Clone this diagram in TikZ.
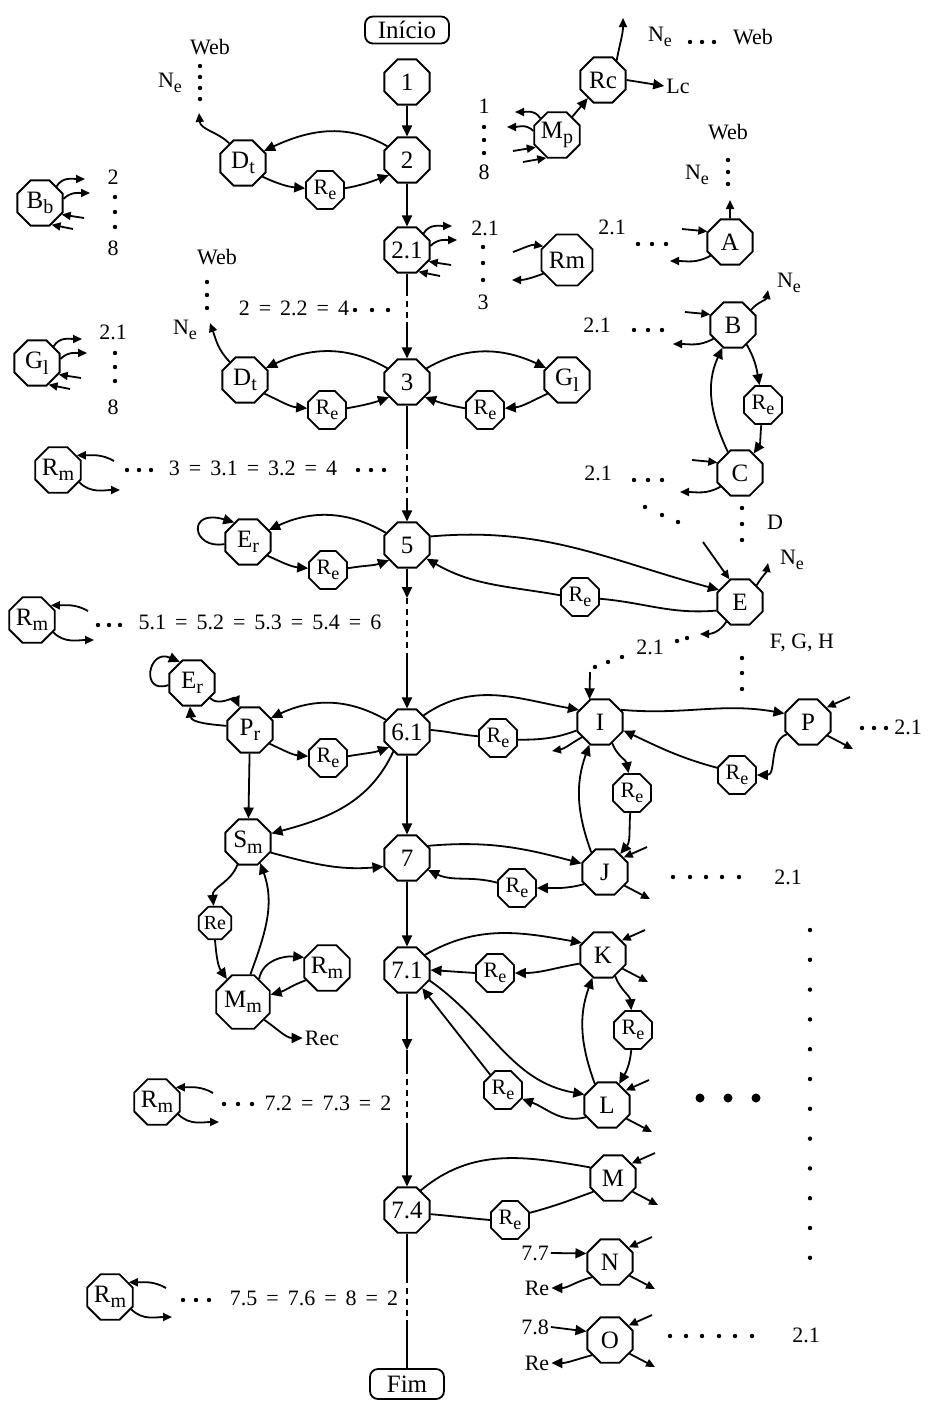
\documentclass[tikz,border=0pt]{standalone}
\usepackage{fontspec}
\setmainfont{Liberation Serif}
\usetikzlibrary{arrows.meta,shapes.geometric}
% lowered index letter inside a node (D_t, E_r, M_p ...)
\newcommand{\sbx}[1]{\raisebox{-0.22em}{\fontsize{20}{20}\selectfont #1}}
% lowered index letter for R_e and free labels (N_e)
\newcommand{\sbs}[1]{\raisebox{-0.22em}{\fontsize{18}{18}\selectfont #1}}
% widely spaced equals sign of the equivalence rows
\newcommand{\eqs}{\hspace{9pt}=\hspace{9pt}}
% stubs: two outgoing arrows to the right, two incoming from the right
\newcommand{\lstubs}[1]{%
  \draw[sarr] (#1.45) to[out=60,in=180] ([shift={(45,24)}]#1.center);
  \draw[sarr] (#1.10) to[out=45,in=180] ([shift={(50,10)}]#1.center);
  \draw[sarr] ([shift={(44,-15)}]#1.center) -- (#1.-28);
  \draw[sarr] ([shift={(33,-26)}]#1.center) -- (#1.-62);}
% the same stubs, mirrored to the left
\newcommand{\mstubs}[1]{%
  \draw[sarr] (#1.135) to[out=120,in=0] ([shift={(-42,23)}]#1.center);
  \draw[sarr] (#1.170) to[out=135,in=0] ([shift={(-50,8)}]#1.center);
  \draw[sarr] ([shift={(-44,-16)}]#1.center) -- (#1.-150);
  \draw[sarr] ([shift={(-34,-27)}]#1.center) -- (#1.-115);}
% R_m pair: one incoming from the right above, one outgoing to the right below
\newcommand{\rmst}[1]{%
  \draw[sarr] ([shift={(56,9)}]#1.center) to[out=150,in=0] (#1.38);
  \draw[sarr] (#1.-30) to[out=-45,in=180] ([shift={(62,-20)}]#1.center);}
% A, B, C: one incoming from the left, one outgoing to the left
\newcommand{\abcst}[1]{%
  \draw[sarr] ([shift={(-48,13)}]#1.center) -- (#1.155);
  \draw[sarr] (#1.-145) to[out=-150,in=0] ([shift={(-60,-19)}]#1.center);}
% right-hand pair: incoming from upper right, outgoing to lower right
\newcommand{\rst}[1]{%
  \draw[sarr] ([shift={(42,25)}]#1.center) -- (#1.38);
  \draw[sarr] (#1.-35) -- ([shift={(45,-27)}]#1.center);}
\begin{document}
\begin{tikzpicture}[x=1pt,y=1pt,
  every node/.style={font=\fontsize{22}{24}\selectfont, inner sep=2pt},
  lnk/.style={line width=1.8pt},
  st/.style={draw, line width=1.8pt, regular polygon, regular polygon sides=8,
    minimum size=49pt, inner sep=0pt, font=\fontsize{25}{27}\selectfont},
  rs/.style={st, minimum size=41pt, font=\fontsize{22}{24}\selectfont},
  term/.style={draw, line width=1.8pt, rounded corners=8pt, minimum width=84pt,
    minimum height=27pt, inner sep=0pt, font=\fontsize{25}{27}\selectfont},
  arr/.style={lnk, -{Triangle[length=11pt,width=10pt]}},
  sarr/.style={lnk, -{Triangle[length=9pt,width=8pt]}},
  mdash/.style={lnk, dash pattern=on 6pt off 5pt}]

\fill[white] (0,0) rectangle (928,-1403);
\useasboundingbox (0,0) rectangle (928,-1403);

% ---------- nodes ----------
\node[term] (ini) at (407,-30) {Início};
\node[st] (n1) at (407,-82) {1};
\node[st] (n2) at (407,-160) {2};
\node[st] (dt1) at (243,-163) {D\sbx{t}};
\node[rs] (re1) at (325,-190) {R\sbs{e}};
\node[st] (n21) at (407,-250) {2.1};
\node[st] (rm0) at (567,-260) {Rm};
\node[st] (mp) at (557,-135) {M\sbx{p}};
\node[st] (rc) at (603,-80) {Rc};
\node[st] (bb) at (40,-203) {B\sbx{b}};
\node[st] (gl1) at (37,-363) {G\sbx{l}};
\node[st] (dt2) at (245,-380) {D\sbx{t}};
\node[rs] (re2) at (327,-410) {R\sbs{e}};
\node[st] (n3) at (407,-382) {3};
\node[st] (gl2) at (567,-380) {G\sbx{l}};
\node[rs] (re3) at (485,-410) {R\sbs{e}};
\node[st] (rmA) at (58,-470) {R\sbx{m}};
\node[st] (n5) at (407,-545) {5};
\node[st] (er1) at (248,-542) {E\sbx{r}};
\node[rs] (re4) at (328,-570) {R\sbs{e}};
\node[st] (rmB) at (32,-620) {R\sbx{m}};
\node[rs] (re5) at (580,-597) {R\sbs{e}};
\node[st] (nA) at (730,-242) {A};
\node[st] (nB) at (733,-325) {B};
\node[rs] (re6) at (763,-405) {R\sbs{e}};
\node[st] (nC) at (740,-473) {C};
\node[st] (nE) at (740,-602) {E};
\node[st] (er2) at (192,-683) {E\sbx{r}};
\node[st] (pr) at (250,-730) {P\sbx{r}};
\node[st] (n61) at (407,-732) {6.1};
\node[rs] (re7) at (328,-758) {R\sbs{e}};
\node[st] (sm) at (248,-842) {S\sbx{m}};
\node[st] (n7) at (407,-858) {7};
\node[rs, minimum size=35pt, font=\fontsize{20}{22}\selectfont] (re8) at (215,-923) {Re};
\node[st] (rm1) at (327,-968) {R\sbx{m}};
\node[st] (mm) at (243,-1002) {M\sbx{m}};
\node[st] (n71) at (407,-970) {7.1};
\node[st] (nI) at (600,-722) {I};
\node[rs] (re9) at (498,-738) {R\sbs{e}};
\node[st] (nP) at (808,-722) {P};
\node[rs] (re10) at (737,-775) {R\sbs{e}};
\node[rs] (re11) at (632,-793) {R\sbs{e}};
\node[st] (nJ) at (605,-872) {J};
\node[rs] (re12) at (517,-888) {R\sbs{e}};
\node[st] (nK) at (603,-955) {K};
\node[rs] (re13) at (495,-973) {R\sbs{e}};
\node[rs] (re14) at (633,-1030) {R\sbs{e}};
\node[st] (nL) at (607,-1105) {L};
\node[rs] (re15) at (503,-1090) {R\sbs{e}};
\node[st] (rmC) at (157,-1102) {R\sbx{m}};
\node[st] (n74) at (407,-1210) {7.4};
\node[st] (nM) at (613,-1178) {M};
\node[rs] (re16) at (510,-1220) {R\sbs{e}};
\node[st] (nN) at (610,-1262) {N};
\node[st] (nO) at (610,-1340) {O};
\node[st] (rmD) at (110,-1297) {R\sbx{m}};
\node[term, minimum width=74pt, minimum height=30pt] (fim) at (407,-1384) {Fim};

% ---------- labels ----------
\node at (210,-47) {Web};
\node at (170,-83) {N\sbs{e}};
\node at (484,-106) {1};
\node at (484,-172) {8};
\node at (660,-37) {N\sbs{e}};
\node at (753,-37) {Web};
\node (lc) at (678,-86) {Lc};
\node at (728,-132) {Web};
\node at (697,-175) {N\sbs{e}};
\node at (113,-177) {2};
\node at (113,-248) {8};
\node at (485,-228) {2.1};
\node at (483,-302) {3};
\node at (612,-227) {2.1};
\node at (217,-257) {Web};
\node at (185,-330) {N\sbs{e}};
\node at (294,-308) {2\eqs 2.2\eqs 4};
\node at (113,-332) {2.1};
\node at (113,-407) {8};
\node at (597,-325) {2.1};
\node at (789,-283) {N\sbs{e}};
\node at (253,-468) {3\eqs 3.1\eqs 3.2\eqs 4};
\node at (598,-473) {2.1};
\node at (775,-522) {D};
\node at (792,-560) {N\sbs{e}};
\node (t21e) at (650,-647) {2.1};
\node at (802,-643) {F, G, H};
\node at (260,-622) {5.1\eqs 5.2\eqs 5.3\eqs 5.4\eqs 6};
\node at (908,-727) {2.1};
\node at (788,-877) {2.1};
\node (rec) at (322,-1038) {Rec};
\node at (328,-1103) {7.2\eqs 7.3\eqs 2};
\node (t77) at (535,-1253) {7.7};
\node (ren) at (537,-1288) {Re};
\node (t78) at (535,-1327) {7.8};
\node (reo) at (537,-1363) {Re};
\node at (806,-1335) {2.1};
\node at (314,-1298) {7.5\eqs 7.6\eqs 8\eqs 2};

% ---------- dot runs ----------
\foreach \p in {
  (200,-66),(200,-77),(200,-88),(200,-99),
  (484,-127),(484,-140),(484,-153),
  (690,-42),(702,-42),(714,-42),
  (728,-160),(728,-172),(728,-184),
  (115,-197),(115,-212),(115,-227),
  (483,-247),(483,-263),(483,-280),
  (638,-244),(652,-244),(666,-244),
  (207,-282),(207,-295),(207,-308),
  (355,-310),(372,-310),(388,-310),
  (115,-353),(115,-367),(115,-381),
  (634,-330),(648,-330),(662,-330),
  (127,-470),(139,-470),(151,-470),(358,-470),(371,-470),(384,-470),
  (634,-480),(648,-480),(662,-480),
  (645,-507),(662,-515),(678,-522),
  (742,-508),(742,-524),(742,-540),
  (98,-625),(109,-625),(120,-625),
  (687,-638),(677,-641),(622,-657),(608,-662),(595,-667),
  (742,-658),(742,-673),(742,-689),
  (862,-728),(874,-728),(886,-728),
  (673,-877),(690,-877),(706,-877),(722,-877),(739,-877),
  (224,-1104),(238,-1104),(252,-1104),
  (183,-1300),(196,-1300),(209,-1300),
  (670,-1336),(686,-1336),(702,-1336),(719,-1336),(735,-1336),(752,-1336)}
  \fill \p circle (2.2pt);
\foreach \k in {0,...,11}
  \fill (810,-930-29.8*\k) circle (2.2pt);
\foreach \x in {700,728,756}
  \fill (\x,-1098) circle (4.5pt);

% ---------- main column ----------
\coordinate (c1) at (407,-290); \coordinate (c2) at (407,-322);
\coordinate (c3) at (407,-443); \coordinate (c4) at (407,-500);
\coordinate (c5) at (407,-598); \coordinate (c6) at (407,-655);
\coordinate (c7) at (407,-1050); \coordinate (c8) at (407,-1068);
\coordinate (c9) at (407,-1127); \coordinate (c10) at (407,-1277);
\coordinate (c11) at (407,-1320);
\draw[arr] (n1) -- (n2);
\draw[arr] (n2) -- (n21);
\draw[lnk] (n21) -- (c1); \draw[mdash] (c1) -- (c2); \draw[arr] (c2) -- (n3);
\draw[lnk] (n3) -- (c3); \draw[mdash] (c3) -- (c4); \draw[arr] (c4) -- (n5);
\draw[arr] (n5) -- (c5); \draw[mdash] (c5) -- (c6); \draw[arr] (c6) -- (n61);
\draw[arr] (n61) -- (n7);
\draw[arr] (n7) -- (n71);
\draw[arr] (n71) -- (c7); \draw[lnk] (c7) -- (c8); \draw[mdash] (c8) -- (c9);
\draw[arr] (c9) -- (n74);
\draw[lnk] (n74) -- (c10); \draw[mdash] (c10) -- (c11); \draw[lnk] (c11) -- (fim);

% ---------- top group ----------
\draw[arr] (n2.145) to[out=150,in=25] (dt1.30);
\draw[arr] (dt1.-35) to[out=-25,in=175] (re1.175);
\draw[arr] (re1.5) to[out=10,in=200] (n2.220);
\coordinate (dtu1) at (199,-113);
\draw[sarr] (dt1.125) to[out=135,in=-85] (dtu1);
\lstubs{n21}
\lstubs{bb}
\lstubs{gl1}
\mstubs{mp}
\draw[arr] (mp.50) -- (rc.-130);
\coordinate (rcu) at (623,-18);
\draw[sarr] (rc.55) to[out=80,in=-90] (rcu);
\draw[arr] (rc.east) -- (lc.west);
\draw[sarr] ([shift={(-54,8)}]rm0.center) to[out=20,in=170] (rm0.150);
\draw[sarr] (rm0.-150) to[out=-160,in=0] ([shift={(-55,-20)}]rm0.center);

% ---------- node 3 ----------
\draw[arr] (n3.145) to[out=150,in=25] (dt2.30);
\draw[arr] (dt2.-35) to[out=-25,in=175] (re2.175);
\draw[arr] (re2.5) to[out=10,in=200] (n3.220);
\coordinate (dtu2) at (210,-323);
\draw[sarr] (dt2.130) to[out=135,in=-70] (dtu2);
\draw[arr] (n3.35) to[out=30,in=155] (gl2.150);
\draw[arr] (gl2.-145) to[out=-155,in=5] (re3.5);
\draw[arr] (re3.175) to[out=170,in=-20] (n3.-40);

% ---------- A, B, C, E ----------
\abcst{nA}
\abcst{nB}
\abcst{nC}
\coordinate (au) at (730,-200);
\draw[sarr] (nA.north) -- (au);
\coordinate (bu) at (768,-290);
\draw[sarr] (nB.40) to[out=50,in=-100] (bu);
\draw[arr] (nB.-55) to[out=-60,in=100] (re6.100);
\draw[arr] (re6.-95) to[out=-95,in=55] (nC.55);
\draw[arr] (nC.120) to[out=115,in=-115] (nB.-115);
\draw[arr] (n5.20) to[out=5,in=165] (nE.150);
\draw[lnk] (nE.200) to[out=185,in=-5] (re5.-5);
\draw[arr] (re5.175) to[out=170,in=-30] (n5.-35);
\coordinate (eu) at (768,-563);
\draw[sarr] (nE.45) to[out=60,in=-100] (eu);
\coordinate (ein) at (703,-542);
\draw[sarr] (ein) -- (nE.115);
\coordinate (ed) at (700,-634);
\draw[sarr] (nE.-125) to[out=-120,in=0] (ed);
\coordinate (id) at (590,-672);
\draw[arr] (id) -- (nI.115);

% ---------- node 5 ----------
\draw[arr] (n5.150) to[out=150,in=25] (er1.30);
\draw[arr] (er1.185) .. controls (192,-550) and (186,-508) .. (er1.125);
\draw[arr] (er1.-35) to[out=-25,in=175] (re4.175);
\draw[arr] (re4.5) to[out=10,in=200] (n5.220);
\rmst{rmA}
\rmst{rmB}
\rmst{rmC}
\rmst{rmD}

% ---------- node 6.1 ----------
\draw[arr] (n61.150) to[out=150,in=25] (pr.30);
\draw[arr] (er2.185) .. controls (140,-695) and (148,-648) .. (er2.120);
\draw[arr] (er2.-40) to[out=-45,in=115] (pr.115);
\draw[arr] (pr.170) to[out=175,in=-85] (er2.-95);
\draw[arr] (pr.-35) to[out=-25,in=175] (re7.175);
\draw[arr] (re7.5) to[out=10,in=200] (n61.220);
\draw[arr] (pr) -- (sm);
\draw[arr] (n61.-125) to[out=-115,in=15] (sm.20);
\draw[arr] (sm.-25) to[out=-15,in=185] (n7.200);

% ---------- S_m / M_m ----------
\draw[arr] (sm.-115) to[out=-110,in=95] (re8.95);
\draw[arr] (re8.-90) to[out=-85,in=125] (mm.125);
\draw[arr] (mm.75) to[out=70,in=-70] (sm.-60);
\draw[arr] (mm.55) to[out=80,in=175] (rm1.155);
\draw[arr] (rm1.-150) to[out=-160,in=15] (mm.15);
\draw[arr] (mm.-40) to[out=-35,in=180] (rec.west);

% ---------- right column ----------
\draw[arr] (n61.45) to[out=35,in=170] (nI.150);
\draw[lnk] (n61.5) to[out=-5,in=175] (re9.175);
\draw[lnk] (re9.-5) to[out=0,in=200] (nI.200);
\coordinate (iout) at (552,-751);
\draw[sarr] (nI.-140) to[out=-150,in=10] (iout);
\draw[arr] (nI.30) to[out=-5,in=170] (nP.160);
\draw[arr] (nP.-150) to[out=-160,in=0] (re10.east);
\draw[arr] (re10.160) to[out=165,in=-25] (nI.-20);
\rst{nP}
\draw[arr] (nI.-60) to[out=-70,in=100] (re11.100);
\draw[arr] (re11.-95) to[out=-95,in=50] (nJ.50);
\draw[arr] (nJ.125) to[out=110,in=-110] (nI.-115);
\draw[arr] (n7.30) to[out=5,in=165] (nJ.160);
\draw[arr] (nJ.-150) to[out=-165,in=0] (re12.east);
\draw[arr] (re12.165) to[out=165,in=-25] (n7.-30);
\rst{nJ}
\draw[arr] (n71.40) to[out=30,in=170] (nK.150);
\draw[arr] (nK.-160) to[out=-170,in=0] (re13.east);
\draw[arr] (re13.west) -- (n71.east);
\rst{nK}
\draw[arr] (nK.-60) to[out=-70,in=95] (re14.95);
\draw[arr] (re14.-95) to[out=-95,in=60] (nL.60);
\draw[arr] (nL.120) to[out=110,in=-110] (nK.-115);
\draw[arr] (n71.-25) to[out=-35,in=170] (nL.155);
\draw[arr] (nL.-150) to[out=-165,in=-20] (re15.-25);
\draw[arr] (re15.130) -- (n71.-50);
\rst{nL}
\draw[lnk] (n74.55) to[out=40,in=170] (nM.155);
\draw[lnk] (nM.-145) to[out=-160,in=15] (re16.20);
\draw[lnk] (re16.180) to[out=175,in=-5] (n74.-10);
\rst{nM}
\draw[arr] (t77.east) -- (nN.160);
\draw[arr] (nN.-140) to[out=-165,in=0] (ren.east);
\rst{nN}
\draw[arr] (t78.east) -- (nO.160);
\draw[arr] (nO.-140) to[out=-165,in=0] (reo.east);
\rst{nO}
\end{tikzpicture}
\end{document}
